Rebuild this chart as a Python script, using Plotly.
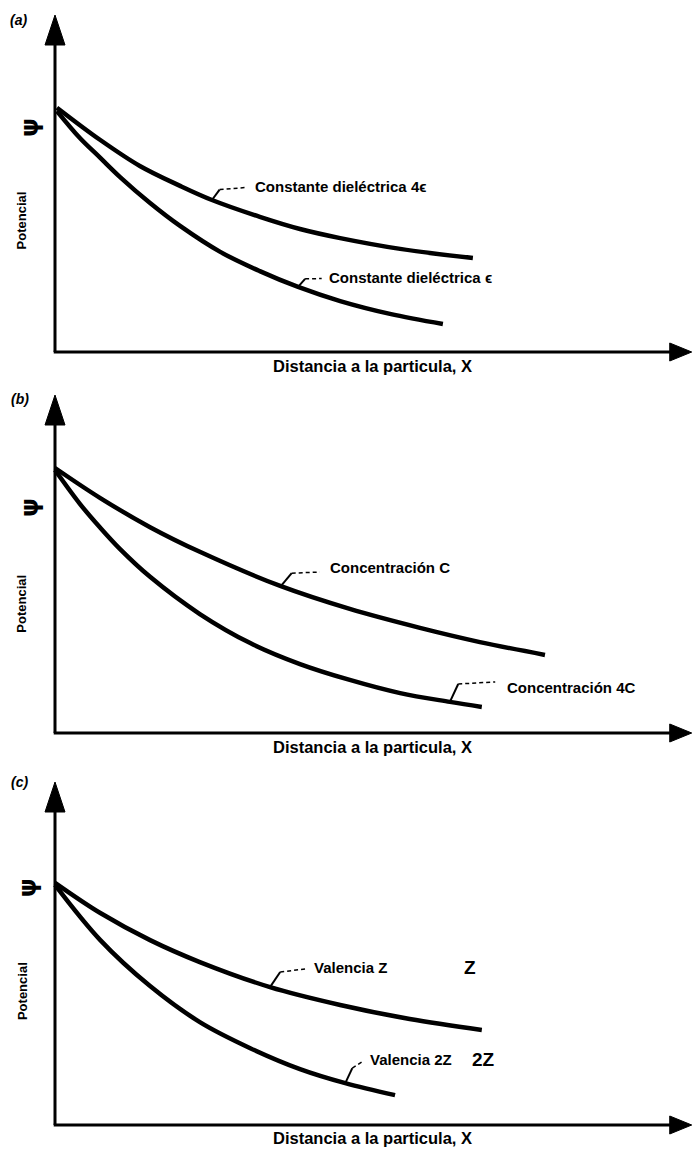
import plotly.graph_objects as go

# ---------------- data (distance units 0-10, potential units 0-10) ----------------
# Panel (a)
dist_a_4eps = [0.03, 0.71, 1.33, 1.96, 2.46, 3.21, 3.84, 4.47, 5.41, 6.55]
pot_a_4eps = [7.25, 6.29, 5.52, 4.93, 4.51, 4.01, 3.65, 3.38, 3.06, 2.79]
dist_a_eps = [0.03, 0.39, 0.71, 1.02, 1.49, 1.96, 2.59, 3.21, 3.81, 4.47, 5.25, 6.08]
pot_a_eps = [7.15, 6.35, 5.76, 5.19, 4.42, 3.74, 2.97, 2.40, 1.93, 1.51, 1.13, 0.83]

# Panel (b)
dist_b_C = [0.0, 0.71, 1.49, 2.27, 3.53, 4.62, 5.72, 6.66, 7.68]
pot_b_C = [7.84, 6.95, 6.09, 5.36, 4.35, 3.67, 3.11, 2.69, 2.31]
dist_b_4C = [0.0, 0.39, 0.71, 1.02, 1.49, 2.27, 3.06, 3.84, 4.62, 5.41, 6.19, 6.69]
pot_b_4C = [7.78, 6.78, 6.07, 5.44, 4.62, 3.52, 2.66, 2.04, 1.57, 1.18, 0.92, 0.77]

# Panel (c)
dist_c_Z = [0.0, 0.71, 1.49, 2.27, 3.37, 4.47, 5.56, 6.69]
pot_c_Z = [7.06, 6.18, 5.39, 4.75, 4.02, 3.50, 3.09, 2.77]
dist_c_2Z = [0.0, 0.71, 1.49, 2.27, 3.06, 3.84, 4.55, 5.33]
pot_c_2Z = [7.00, 5.39, 4.05, 3.00, 2.24, 1.63, 1.22, 0.87]

panel_tags = ["(a)", "(b)", "(c)"]
y_title = "Potencial"
x_title = "Distancia a la particula, X"
psi_label = "ψ"

# curve labels: text, label (x, y), curve point (x, y), hook point (x, y), dash end (x, y)
labels_a = [
    ("Constante dieléctrica 4ϵ", (3.10, 4.90), (2.46, 4.51), (2.58, 4.82), (2.98, 4.88)),
    ("Constante dieléctrica ϵ", (4.26, 2.20), (3.81, 1.93), (3.92, 2.17), (4.18, 2.18)),
]
labels_b = [
    ("Concentración C", (4.28, 4.91), (3.53, 4.32), (3.71, 4.73), (4.15, 4.76)),
    ("Concentración 4C", (7.05, 1.36), (6.19, 0.92), (6.32, 1.45), (6.90, 1.51)),
]
labels_c = [
    ("Valencia Z", (4.03, 4.58), (3.37, 4.02), (3.53, 4.46), (3.92, 4.55)),
    ("Valencia 2Z", (4.91, 1.90), (4.55, 1.22), (4.66, 1.66), (4.81, 1.84)),
]
side_c = [("Z", (6.50, 4.58)), ("2Z", (6.71, 1.90))]

psi_pos = [(-0.39, 6.65), (-0.39, 6.66), (-0.42, 6.91)]
ytitle_pos = [(-0.52, 3.90), (-0.52, 3.82), (-0.52, 3.90)]
tag_pos = [(-0.58, 9.85), (-0.55, 9.88), (-0.55, 10.0)]
xtitle_pos = [(4.97, -0.42), (4.97, -0.41), (4.97, -0.38)]

# ---------------- layout geometry ----------------
W, H = 693, 1155
X_ORIGIN_PX = 55
PX_PER_X = 63.8
X_RANGE = [-0.8, 10.0]
panel_axis_px = [352, 733, 1125]   # pixel row of potential = 0
panel_tip_px = [15, 395, 782]      # pixel row of potential = 10
Y_RANGE = [-0.6, 10.2]

FONT = "Liberation Sans, Arial, sans-serif"
BLACK = "#000000"

fig = go.Figure()

curves = [
    [(dist_a_4eps, pot_a_4eps), (dist_a_eps, pot_a_eps)],
    [(dist_b_C, pot_b_C), (dist_b_4C, pot_b_4C)],
    [(dist_c_Z, pot_c_Z), (dist_c_2Z, pot_c_2Z)],
]
all_labels = [labels_a, labels_b, labels_c]

x_left_px = X_ORIGIN_PX + X_RANGE[0] * PX_PER_X
x_right_px = X_ORIGIN_PX + X_RANGE[1] * PX_PER_X
layout_axes = {}
shapes = []
annotations = []

for i in range(3):
    sfx = "" if i == 0 else str(i + 1)
    xr, yr = "x" + sfx, "y" + sfx
    ppu = (panel_axis_px[i] - panel_tip_px[i]) / 10.0
    bottom_px = panel_axis_px[i] - Y_RANGE[0] * ppu
    top_px = panel_axis_px[i] - Y_RANGE[1] * ppu
    layout_axes["xaxis" + sfx] = dict(domain=[x_left_px / W, min(1.0, x_right_px / W)],
                                     range=X_RANGE, visible=False, anchor=yr, fixedrange=True)
    layout_axes["yaxis" + sfx] = dict(domain=[1 - bottom_px / H, 1 - top_px / H],
                                     range=Y_RANGE, visible=False, anchor=xr, fixedrange=True)

    for xs, ys in curves[i]:
        fig.add_trace(go.Scatter(x=xs, y=ys, mode="lines", xaxis=xr, yaxis=yr,
                                 line=dict(color=BLACK, width=4.5, shape="spline", smoothing=1.0),
                                 showlegend=False, hoverinfo="skip"))

    # axes with arrow heads
    head_len_y = 30 / ppu
    head_half_w = 10 / PX_PER_X
    shapes.append(dict(type="line", xref=xr, yref=yr, x0=0, y0=0, x1=0, y1=10 - head_len_y + 0.1,
                       line=dict(color=BLACK, width=3)))
    shapes.append(dict(type="path", xref=xr, yref=yr, fillcolor=BLACK, line=dict(color=BLACK, width=1),
                       path=f"M 0,10 Q {-head_half_w*0.5},{10-head_len_y*0.5} {-head_half_w},{10-head_len_y} "
                            f"L {head_half_w},{10-head_len_y} Q {head_half_w*0.5},{10-head_len_y*0.5} 0,10 Z"))
    head_len_x = 22 / PX_PER_X
    head_half_h = 9 / ppu
    shapes.append(dict(type="line", xref=xr, yref=yr, x0=-0.02, y0=0, x1=10 - head_len_x + 0.05, y1=0,
                       line=dict(color=BLACK, width=3)))
    shapes.append(dict(type="path", xref=xr, yref=yr, fillcolor=BLACK, line=dict(color=BLACK, width=1),
                       path=f"M 9.98,0 L {9.98-head_len_x},{head_half_h} L {9.98-head_len_x},{-head_half_h} Z"))

    # curve labels with leader lines
    for text, (lx, ly), (cx, cy), (hx, hy), (dx, dy) in all_labels[i]:
        annotations.append(dict(xref=xr, yref=yr, x=lx, y=ly, text=f"<b>{text}</b>", showarrow=False,
                                xanchor="left", yanchor="middle",
                                font=dict(family=FONT, size=15, color=BLACK)))
        shapes.append(dict(type="line", xref=xr, yref=yr, x0=cx, y0=cy, x1=hx, y1=hy,
                           line=dict(color=BLACK, width=2)))
        shapes.append(dict(type="line", xref=xr, yref=yr, x0=hx, y0=hy, x1=dx, y1=dy,
                           line=dict(color=BLACK, width=1.5, dash="4px,3px")))

    # panel tag, psi, axis titles
    annotations.append(dict(xref=xr, yref=yr, x=tag_pos[i][0], y=tag_pos[i][1], text=f"<b><i>{panel_tags[i]}</i></b>",
                            showarrow=False, xanchor="center", yanchor="middle",
                            font=dict(family=FONT, size=14, color=BLACK)))
    annotations.append(dict(xref=xr, yref=yr, x=psi_pos[i][0], y=psi_pos[i][1], text=f"<b>{psi_label}</b>",
                            showarrow=False, textangle=-90, xanchor="center", yanchor="middle",
                            font=dict(family="DejaVu Sans, sans-serif", size=24, color=BLACK)))
    annotations.append(dict(xref=xr, yref=yr, x=ytitle_pos[i][0], y=ytitle_pos[i][1], text=f"<b>{y_title}</b>",
                            showarrow=False, textangle=-90, xanchor="center", yanchor="middle",
                            font=dict(family=FONT, size=13, color=BLACK)))
    annotations.append(dict(xref=xr, yref=yr, x=xtitle_pos[i][0], y=xtitle_pos[i][1], text=f"<b>{x_title}</b>",
                            showarrow=False, xanchor="center", yanchor="middle",
                            font=dict(family=FONT, size=16.5, color=BLACK)))

for text, (sx, sy) in side_c:
    annotations.append(dict(xref="x3", yref="y3", x=sx, y=sy, text=f"<b>{text}</b>", showarrow=False,
                            xanchor="center", yanchor="middle",
                            font=dict(family=FONT, size=19, color=BLACK)))

fig.update_layout(width=W, height=H, margin=dict(l=0, r=0, t=0, b=0),
                  paper_bgcolor="white", plot_bgcolor="rgba(0,0,0,0)",
                  shapes=shapes, annotations=annotations, **layout_axes)

fig.write_html("out.html", config={"displayModeBar": False},
               post_script="document.body.style.margin='0px';")
